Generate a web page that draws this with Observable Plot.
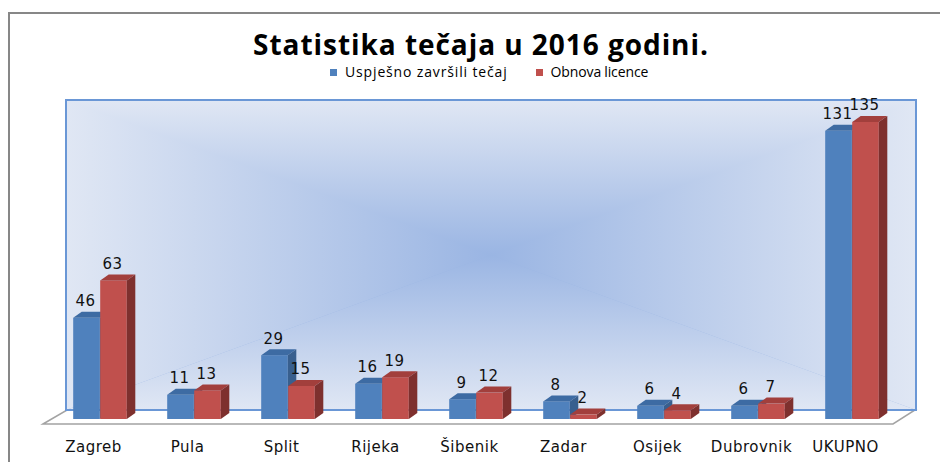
<!DOCTYPE html>
<html>
<head>
<meta charset="utf-8">
<script src="https://cdn.jsdelivr.net/npm/d3@7"></script>
<script src="https://cdn.jsdelivr.net/npm/@observablehq/plot@0.6"></script>
<style>
  html, body { margin: 0; padding: 0; background: #fff; }
  #wrap { position: relative; width: 940px; height: 462px; overflow: hidden; }
  #border { position: absolute; left: 8px; top: 12px; width: 940px; height: 460px;
            border-left: 2px solid #878787; border-top: 2px solid #878787; }
  #title { position: absolute; left: 0; top: 30px; width: 962px; text-align: center;
           font-family: "Open Sans", Lato, sans-serif; font-weight: bold; font-size: 28px;
           line-height: 28px; color: #000; white-space: nowrap; letter-spacing: 0.95px; }
  #legend { position: absolute; left: 330px; top: 64px; font-family: "Open Sans", Lato, sans-serif;
            font-size: 14px; line-height: 16px; color: #000; white-space: nowrap; }
  #legend span.sw { display: inline-block; width: 7px; height: 7px; margin-right: 8px; vertical-align: 1px; }
  #legend span.item0 { letter-spacing: 0.85px; margin-right: 28px; }
  #legend span.item1 { letter-spacing: -0.1px; word-spacing: -0.5px; }
  #chart { position: absolute; left: 0; top: 0; }
</style>
</head>
<body>
<div id="wrap">
  <div id="chart"></div>
  <div id="border"></div>
  <div id="title"></div>
  <div id="legend"></div>
</div>
<script>
// ---- data ----
const chartTitle = "Statistika tečaja u 2016 godini.";
const cities = ["Zagreb", "Pula", "Split", "Rijeka", "Šibenik", "Zadar", "Osijek", "Dubrovnik", "UKUPNO"];
const seriesNames = ["Uspješno završili tečaj", "Obnova licence"];
const zavrsili = [46, 11, 29, 16, 9, 8, 6, 6, 131];
const obnova = [63, 13, 15, 19, 12, 2, 4, 7, 135];

// ---- styles ----
const colors = {
  blue: {front: "#4f81bd", top: "#3d6ba3", side: "#385f8e"},
  red: {front: "#c0504d", top: "#a23f3c", side: "#7e302e"}
};
const depth = {dx: 8.5, dy: -6};

const blueData = cities.map((c, i) => ({city: c, value: zavrsili[i]}));
const redData = cities.map((c, i) => ({city: c, value: obnova[i]}));

document.getElementById("title").textContent = chartTitle;
const legend = document.getElementById("legend");
[colors.blue.front, colors.red.front].forEach((col, i) => {
  const item = document.createElement("span");
  item.className = "item" + i;
  item.innerHTML = `<span class="sw" style="background:${col}"></span>`;
  item.appendChild(document.createTextNode(seriesNames[i]));
  legend.appendChild(item);
});

const svgNS = "http://www.w3.org/2000/svg";
function poly(points, fill) {
  const p = document.createElementNS(svgNS, "polygon");
  p.setAttribute("points", points.map(d => d.join(",")).join(" "));
  p.setAttribute("fill", fill);
  return p;
}
function faces(c) {
  return function(index, scales, values, dimensions, context, next) {
    const g = next(index, scales, values, dimensions, context);
    const rects = Array.from(g.querySelectorAll("rect"));
    for (const r of rects) {
      const x = +r.getAttribute("x"), y = +r.getAttribute("y");
      const w = +r.getAttribute("width"), h = +r.getAttribute("height");
      const {dx, dy} = depth;
      g.appendChild(poly([[x, y], [x + dx, y + dy], [x + w + dx, y + dy], [x + w, y]], c.top));
      g.appendChild(poly([[x + w, y], [x + w + dx, y + dy], [x + w + dx, y + h + dy], [x + w, y + h]], c.side));
    }
    return g;
  };
}

const band = 94.4, barW = 27;
const half = band / 2;

const chart = Plot.plot({
  width: 940,
  height: 462,
  marginLeft: 50.8,
  marginRight: 39.8,
  marginTop: 111,
  marginBottom: 43,
  style: {fontFamily: "DejaVu Sans, Verdana, sans-serif", fontSize: "15px", background: "transparent", overflow: "visible", letterSpacing: "0.5px"},
  x: {domain: cities, padding: 0, axis: null},
  y: {domain: [0, 140], axis: null},
  marks: [
    Plot.axisX({anchor: "bottom", tickSize: 0, tickPadding: 22, dx: -7, label: null, fontSize: 15, fill: "#111"}),
    Plot.barY(blueData, {x: "city", y: "value", fill: colors.blue.front, insetLeft: half - barW, insetRight: half, render: faces(colors.blue)}),
    Plot.barY(redData, {x: "city", y: "value", fill: colors.red.front, insetLeft: half, insetRight: half - barW, render: faces(colors.red)}),
    Plot.text(blueData, {x: "city", y: "value", text: d => String(d.value), dx: -15, dy: -17, fill: "#111", fontSize: 15}),
    Plot.text(redData, {x: "city", y: "value", text: d => String(d.value), dx: 12, dy: -17, fill: "#111", fontSize: 15})
  ]
});
document.getElementById("chart").appendChild(chart);

// ---- 3D back wall and floor (decoration behind the marks) ----
const wall = {x0: 66, x1: 916, y0: 100, y1: 410};
const floorPts = [[43, 424], [67, 410], [915, 410], [893, 424]];
const cx = (wall.x0 + wall.x1) / 2, cy = (wall.y0 + wall.y1) / 2;
const edgeCol = "#e0e7f4", centerCol = "#9ab5e3";
const svg = d3.select(chart);
const defs = svg.insert("defs", ":first-child");
const grads = [
  ["gTop", cx, wall.y0, cx, cy],
  ["gBot", cx, wall.y1, cx, cy],
  ["gLeft", wall.x0, cy, cx, cy],
  ["gRight", wall.x1, cy, cx, cy]
];
for (const [id, x1, y1, x2, y2] of grads) {
  const lg = defs.append("linearGradient").attr("id", id).attr("gradientUnits", "userSpaceOnUse")
    .attr("x1", x1).attr("y1", y1).attr("x2", x2).attr("y2", y2);
  lg.append("stop").attr("offset", 0).attr("stop-color", edgeCol);
  lg.append("stop").attr("offset", 1).attr("stop-color", centerCol);
}
const bg = svg.insert("g", "g");
bg.append("polygon").attr("points", floorPts.map(d => d.join(",")).join(" "))
  .attr("fill", "#fff").attr("stroke", "#a3a3a3").attr("stroke-width", 1.5);
bg.append("rect").attr("x", wall.x0).attr("y", wall.y0).attr("width", wall.x1 - wall.x0).attr("height", wall.y1 - wall.y0)
  .attr("fill", "url(#gTop)");
const tri = (pts, fill) => bg.append("polygon").attr("points", pts.map(d => d.join(",")).join(" ")).attr("fill", fill);
tri([[wall.x0, wall.y1], [cx, cy], [wall.x1, wall.y1]], "url(#gBot)");
tri([[wall.x0, wall.y0], [cx, cy], [wall.x0, wall.y1]], "url(#gLeft)");
tri([[wall.x1, wall.y0], [cx, cy], [wall.x1, wall.y1]], "url(#gRight)");
bg.append("rect").attr("x", wall.x0).attr("y", wall.y0).attr("width", wall.x1 - wall.x0).attr("height", wall.y1 - wall.y0)
  .attr("fill", "none").attr("stroke", "#6a97d6").attr("stroke-width", 2);
</script>
</body>
</html>
